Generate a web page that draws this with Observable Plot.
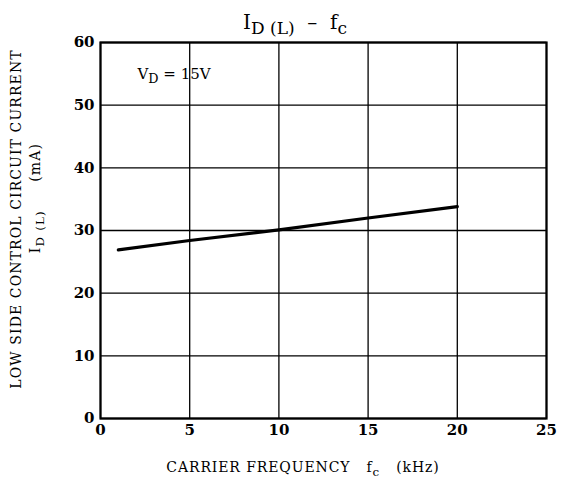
<!DOCTYPE html>
<html><head><meta charset="utf-8">
<script src="https://cdn.jsdelivr.net/npm/d3@7"></script>
<script src="https://cdn.jsdelivr.net/npm/@observablehq/plot@0.6"></script>
<style>body{margin:0;background:#fff}</style>
</head><body><div id="chart"></div>
<script>
const freq = [1, 5, 10, 15, 20];            // kHz
const current = [26.9, 28.4, 30.1, 32.0, 33.8]; // mA
const xTicks = [0, 5, 10, 15, 20, 25];
const yTicks = [0, 10, 20, 30, 40, 50, 60];
const data = freq.map((f, i) => ({f, i: current[i]}));

const serif = "'DejaVu Serif', 'Liberation Serif', serif";
const plot = Plot.plot({
  width: 565, height: 481,
  marginLeft: 100, marginRight: 19, marginTop: 42, marginBottom: 63,
  style: {fontFamily: serif, background: "#fff", color: "#000"},
  x: {domain: [0, 25], ticks: xTicks, tickSize: 0, tickPadding: 6, label: null},
  y: {domain: [0, 60], ticks: yTicks, tickSize: 0, tickPadding: 6, label: null},
  marks: [
    Plot.gridX(xTicks, {stroke: "#000", strokeOpacity: 1, strokeWidth: 1.3}),
    Plot.gridY(yTicks, {stroke: "#000", strokeOpacity: 1, strokeWidth: 1.3}),
    Plot.frame({stroke: "#000", strokeWidth: 2.2}),
    Plot.axisX({ticks: xTicks, tickSize: 0, tickPadding: 6, fontSize: 15, fontWeight: 600, label: null}),
    Plot.axisY({ticks: yTicks, tickSize: 0, tickPadding: 6, fontSize: 15, fontWeight: 600, label: null}),
    Plot.line(data, {x: "f", y: "i", stroke: "#000", strokeWidth: 3.2})
  ]
});
document.getElementById("chart").append(plot);

const svg = d3.select(plot);
const sx = plot.scale("x"), sy = plot.scale("y");
function addText(x, y, parts, opts = {}) {
  const size = opts.size || 13;
  const t = svg.append("text").attr("x", x).attr("y", y)
    .attr("font-family", serif).attr("font-size", size)
    .attr("text-anchor", opts.anchor || "middle").attr("fill", "#000")
    .attr("xml:space", "preserve").style("white-space", "pre");
  if (opts.rotate) t.attr("transform", `rotate(-90 ${x} ${y})`);
  if (opts.weight) t.attr("font-weight", opts.weight);
  if (opts.spacing) t.attr("letter-spacing", opts.spacing);
  for (const p of parts) {
    const s = t.append("tspan").text(p.t);
    if (p.sub) s.attr("baseline-shift", "-30%").attr("font-size", size * 0.85);
  }
  return t;
}
// title
addText(295, 29, [{t: "I"}, {t: "D (L)", sub: true}, {t: "  –  f"}, {t: "c", sub: true}], {size: 20});
// annotation
addText(sx.apply(2.1), sy.apply(55) + 6, [{t: "V"}, {t: "D", sub: true}, {t: " = 15V"}], {size: 15, anchor: "start", weight: 500});
// x label
addText(303, 472, [{t: "CARRIER FREQUENCY   f"}, {t: "c", sub: true}, {t: "   (kHz)"}], {size: 14, spacing: 0.9});
// y labels
addText(21, 219, [{t: "LOW SIDE CONTROL CIRCUIT CURRENT"}], {size: 14, rotate: true, spacing: 1.1});
addText(40, 198, [{t: "I"}, {t: "D (L)", sub: true}, {t: "     (mA)"}], {size: 14, rotate: true, spacing: 1.2});
</script></body></html>
